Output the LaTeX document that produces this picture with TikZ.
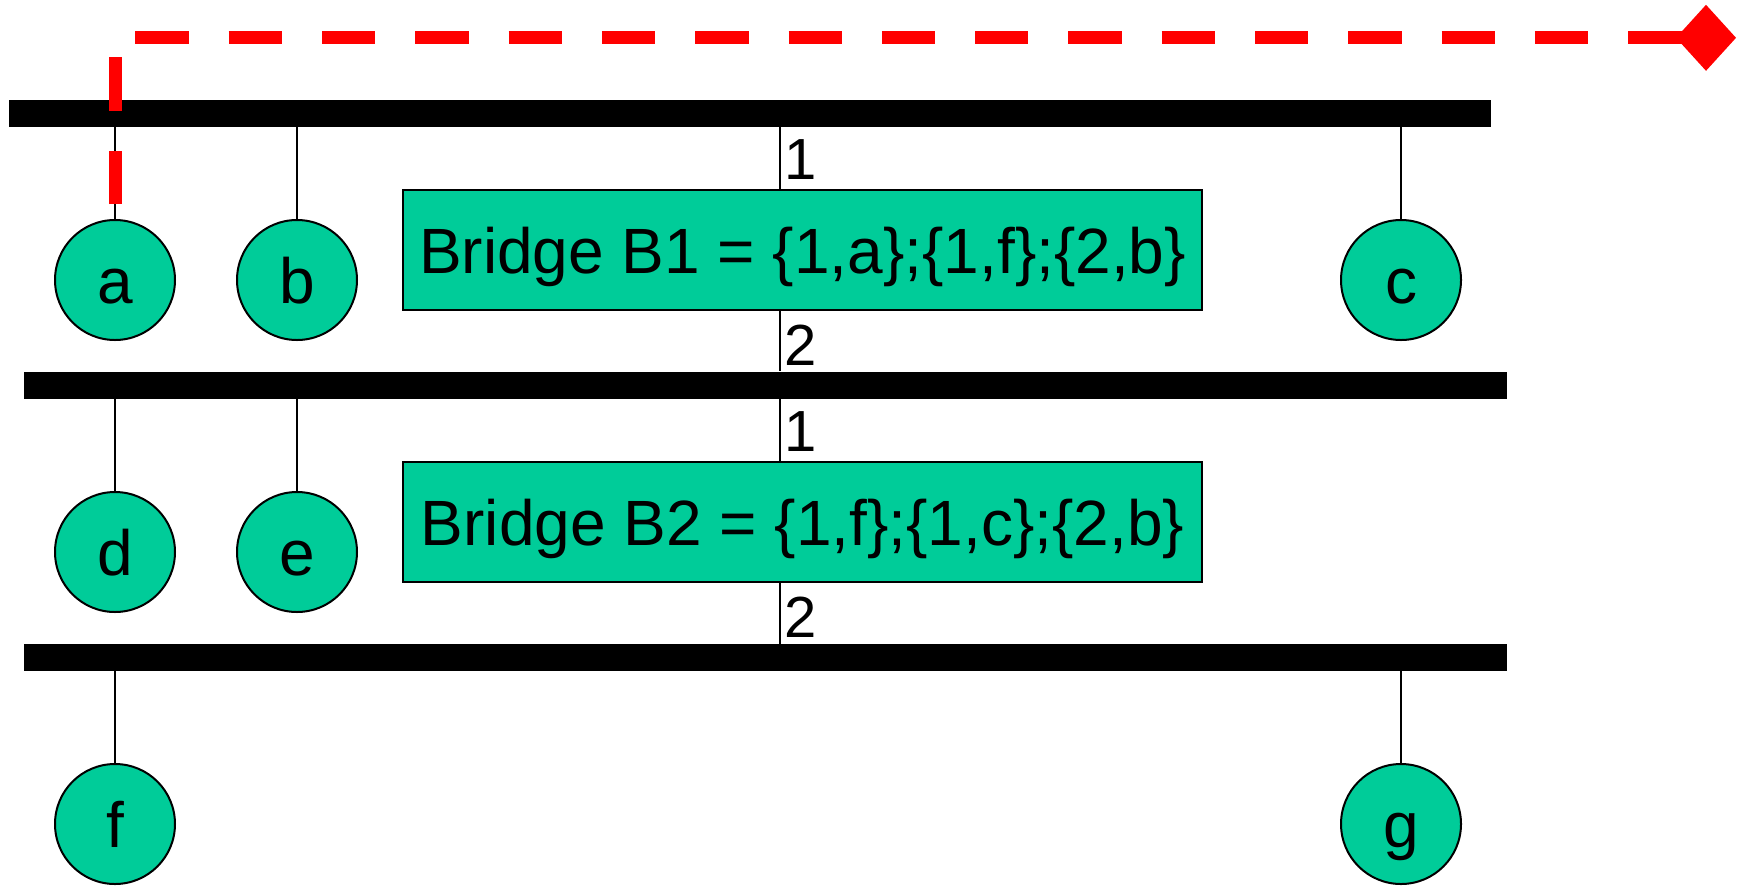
\documentclass[tikz,border=0pt]{standalone}
\usepackage{fontspec}
\setmainfont{Liberation Sans}
\usetikzlibrary{arrows.meta}
\definecolor{nodegreen}{RGB}{0,204,153}
\definecolor{pathred}{RGB}{255,0,0}
\begin{document}
\begin{tikzpicture}[x=1pt,y=-1pt,
  bus/.style={rectangle, fill=black, draw=none, inner sep=0pt, minimum height=27pt},
  host/.style={circle, draw=black, line width=2pt, fill=nodegreen, minimum size=120pt, inner sep=0pt,
    font=\fontsize{64pt}{70pt}\selectfont, text height=46pt, text depth=0pt},
  bridgebox/.style={rectangle, draw=black, line width=2pt, fill=nodegreen, minimum width=799pt,
    minimum height=120pt, inner sep=0pt, font=\fontsize{64pt}{70pt}\selectfont, text height=46pt, text depth=0pt},
  portlabel/.style={anchor=west, inner sep=0pt, font=\fontsize{58pt}{64pt}\selectfont, text height=41.5pt, text depth=0pt},
  tap/.style={line width=1.5pt, draw=black},
  route/.style={draw=pathred, line width=13pt, dash pattern=on 53.3pt off 40pt,
    -{Diamond[length=60pt,width=66pt,line width=0pt]}}
]
\useasboundingbox (0,0) rectangle (1737,887);

% buses
\node[bus, minimum width=1482pt] (bar1) at (750,113.5) {};
\node[bus, minimum width=1483pt] (bar2) at (765.5,385) {};
\node[bus, minimum width=1483pt] (bar3) at (765.5,657.5) {};

% hosts
\node[host] (a) at (115,280) {a};
\node[host] (b) at (297,280) {b};
\node[host] (c) at (1401,280) {c};
\node[host] (d) at (115,552) {d};
\node[host] (e) at (297,552) {e};
\node[host] (f) at (115,824) {f};
\node[host] (g) at (1401,824) {g};

% bridges
\node[bridgebox] (B1) at (802.5,250) {Bridge B1 = \{1,a\};\{1,f\};\{2,b\}};
\node[bridgebox] (B2) at (802.5,522) {Bridge B2 = \{1,f\};\{1,c\};\{2,b\}};

% host taps
\draw[tap] (bar1.south -| a.north) -- (a.north);
\draw[tap] (bar1.south -| b.north) -- (b.north);
\draw[tap] (bar1.south -| c.north) -- (c.north);
\draw[tap] (bar2.south -| d.north) -- (d.north);
\draw[tap] (bar2.south -| e.north) -- (e.north);
\draw[tap] (bar3.south -| f.north) -- (f.north);
\draw[tap] (bar3.south -| g.north) -- (g.north);

% bridge ports
\coordinate (xb) at (780,0);
\draw[tap] (bar1.south -| xb) -- (B1.north -| xb);
\draw[tap] (B1.south -| xb) -- (bar2.north -| xb);
\draw[tap] (bar2.south -| xb) -- (B2.north -| xb);
\draw[tap] (B2.south -| xb) -- (bar3.north -| xb);
\node[portlabel] (p11) at (784,159) {1};
\node[portlabel] (p12) at (784,345) {2};
\node[portlabel] (p21) at (784,431) {1};
\node[portlabel] (p22) at (784,617) {2};

% route
\coordinate (rs) at (115,204);
\coordinate (rc) at (115,37.8);
\coordinate (re) at (1736,37.8);
\draw[route] (rs) -- (rc) -- (re);
\end{tikzpicture}
\end{document}
